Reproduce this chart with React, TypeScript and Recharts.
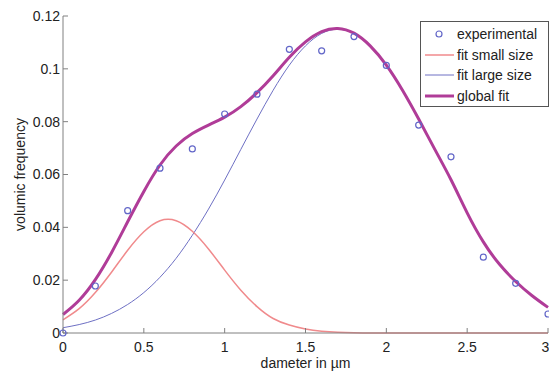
import { ComposedChart, Line, Scatter, XAxis, YAxis } from "recharts";

// diameter grid of the fitted curves (µm)
const diameters = [
  0, 0.1, 0.2, 0.3, 0.4, 0.5, 0.6, 0.7, 0.8, 0.9, 1, 1.1, 1.2, 1.3, 1.4, 1.5,
  1.6, 1.7, 1.8, 1.9, 2, 2.1, 2.2, 2.3, 2.4, 2.5, 2.6, 2.7, 2.8, 2.9, 3,
];
const smallFit = [
  0.005, 0.0092, 0.0153, 0.023, 0.0313, 0.0383, 0.0425, 0.0425, 0.0385, 0.0318,
  0.0238, 0.0162, 0.01, 0.0055, 0.003, 0.0015, 0.0007, 0.0003, 0.0001, 0, 0, 0,
  0, 0, 0, 0, 0, 0, 0, 0, 0,
];
const largeFit = [
  0.002, 0.0032, 0.0049, 0.0074, 0.0108, 0.0153, 0.0211, 0.0283, 0.037, 0.0469,
  0.0579, 0.0695, 0.081, 0.0919, 0.1014, 0.1087, 0.1134, 0.115, 0.1134, 0.1087,
  0.1014, 0.0919, 0.081, 0.0695, 0.058, 0.0455, 0.0345, 0.026, 0.0195, 0.0142,
  0.0097,
];
const globalFit = [
  0.007, 0.0124, 0.0202, 0.0304, 0.0421, 0.0536, 0.0636, 0.0708, 0.0755, 0.0787,
  0.0817, 0.0857, 0.091, 0.0974, 0.1044, 0.1102, 0.1141, 0.1153, 0.1135, 0.1087,
  0.1014, 0.0919, 0.081, 0.0695, 0.058, 0.0455, 0.0345, 0.026, 0.0195, 0.0142,
  0.0097,
];

// measured points
const expDiameters = [0, 0.2, 0.4, 0.6, 0.8, 1, 1.2, 1.4, 1.6, 1.8, 2, 2.2, 2.4, 2.6, 2.8, 3];
const expFreq = [
  0, 0.0178, 0.0463, 0.0624, 0.0697, 0.0829, 0.0904, 0.1074, 0.1068, 0.1122,
  0.1013, 0.0787, 0.0667, 0.0287, 0.0188, 0.0072,
];

const xTicks = [0, 0.5, 1, 1.5, 2, 2.5, 3];
const yTicks = [0, 0.02, 0.04, 0.06, 0.08, 0.1, 0.12];

const curveData = diameters.map((x, i) => ({
  x,
  small: smallFit[i],
  large: largeFit[i],
  global: globalFit[i],
}));
const expData = expDiameters.map((x, i) => ({ x, y: expFreq[i] }));

const FONT = "'Liberation Sans', Arial, sans-serif";
const AXIS = "#808080";
const INK = "#222";
const EXP = "#6266c8";
const SMALL = "#f08a8c";
const LARGE = "#6e70c4";
const GLOBAL = "#b03c98";

const tickStyle = { fontSize: 14, fill: INK, fontFamily: FONT };
const noLabel = () => <g />;

function ChartLegend() {
  const rows = [
    { label: "experimental", kind: "dot", color: EXP },
    { label: "fit small size", kind: "line", color: SMALL, w: 1.5 },
    { label: "fit large size", kind: "line", color: LARGE, w: 1 },
    { label: "global fit", kind: "line", color: GLOBAL, w: 3 },
  ];
  return (
    <div
      style={{
        position: "absolute",
        left: 420,
        top: 21,
        width: 127,
        height: 84,
        border: "1px solid #555",
        background: "#fff",
        fontFamily: FONT,
        fontSize: 14,
        color: INK,
      }}
    >
      {rows.map((r, i) => (
        <div
          key={r.label}
          style={{
            position: "absolute",
            left: 0,
            top: 2 + i * 20.7,
            height: 20,
            display: "flex",
            alignItems: "center",
            whiteSpace: "nowrap",
          }}
        >
          <svg width={36} height={20}>
            {r.kind === "dot" ? (
              <circle cx={18} cy={10} r={3} fill="none" stroke={r.color} strokeWidth={1.2} />
            ) : (
              <line x1={4} x2={33} y1={10} y2={10} stroke={r.color} strokeWidth={r.w} />
            )}
          </svg>
          <span>{r.label}</span>
        </div>
      ))}
    </div>
  );
}

export default function App() {
  return (
    <div style={{ position: "relative", width: 549, height: 371, background: "#fff" }}>
      <style>{`body{margin:0}`}</style>
      <ComposedChart
        width={549}
        height={371}
        data={curveData}
        margin={{ top: 16, right: 1, bottom: 0, left: 0 }}
      >
        <XAxis
          dataKey="x"
          type="number"
          domain={[0, 3]}
          ticks={xTicks}
          height={38}
          stroke={AXIS}
          tickSize={-5}
          tickMargin={14}
          tick={tickStyle}
          label={{
            value: "dameter in µm",
            position: "insideBottom",
            offset: 3,
            style: { fontSize: 14, fill: INK, fontFamily: FONT },
          }}
        />
        <XAxis
          xAxisId="top"
          orientation="top"
          dataKey="x"
          type="number"
          domain={[0, 3]}
          ticks={xTicks}
          height={0}
          stroke={AXIS}
          tickSize={-5}
          tick={noLabel}
        />
        <YAxis
          type="number"
          domain={[0, 0.12]}
          ticks={yTicks}
          width={63}
          stroke={AXIS}
          tickSize={-5}
          tickMargin={8}
          tick={tickStyle}
          label={{
            value: "volumic frequency",
            angle: -90,
            position: "insideLeft",
            offset: 20,
            style: { fontSize: 14, fill: INK, fontFamily: FONT, textAnchor: "middle" },
          }}
        />
        <YAxis
          yAxisId="right"
          orientation="right"
          type="number"
          domain={[0, 0.12]}
          ticks={yTicks}
          width={0}
          stroke={AXIS}
          tickSize={-5}
          tick={noLabel}
        />
        <Line
          dataKey="large"
          type="natural"
          stroke={LARGE}
          strokeWidth={1}
          dot={false}
          isAnimationActive={false}
        />
        <Line
          dataKey="small"
          type="natural"
          stroke={SMALL}
          strokeWidth={1.5}
          dot={false}
          isAnimationActive={false}
        />
        <Line
          dataKey="global"
          type="natural"
          stroke={GLOBAL}
          strokeWidth={3}
          dot={false}
          isAnimationActive={false}
        />
        <Scatter
          data={expData}
          dataKey="y"
          isAnimationActive={false}
          shape={(p: any) => (
            <circle cx={p.cx} cy={p.cy} r={3} fill="none" stroke={EXP} strokeWidth={1.2} />
          )}
        />
      </ComposedChart>
      <ChartLegend />
    </div>
  );
}
